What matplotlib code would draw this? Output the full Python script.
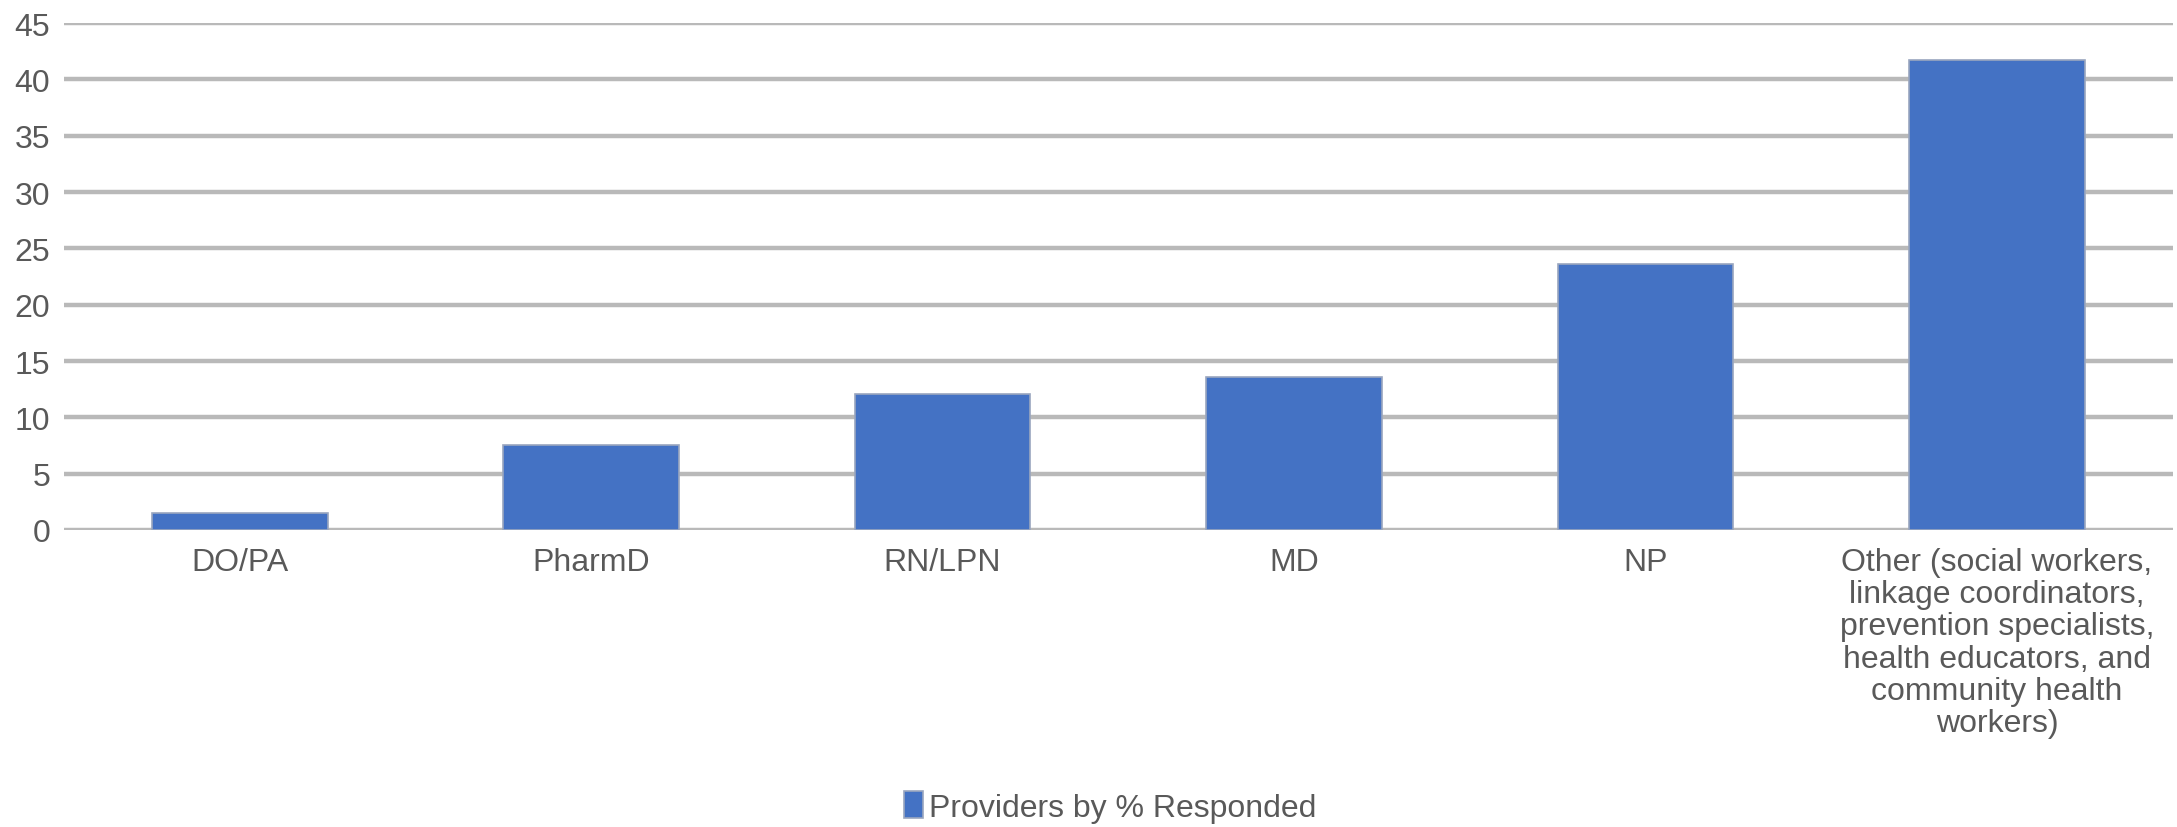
import matplotlib
matplotlib.use("Agg")
import matplotlib.pyplot as plt
from matplotlib.patches import Patch


# ================= DATA =================

categories = [
    "DO/PA",
    "PharmD",
    "RN/LPN",
    "MD",
    "NP",
    "Other (social workers,\nlinkage coordinators,\nprevention specialists,\nhealth educators, and\ncommunity health\nworkers)",
]
values = [1.5, 7.5, 12.1, 13.6, 23.6, 41.7]
series_name = "Providers by % Responded"
y_ticks = [0, 5, 10, 15, 20, 25, 30, 35, 40, 45]


# ================= STYLE =================

plt.rcParams["font.family"] = ["Liberation Sans", "DejaVu Sans"]
BAR_COLOR = "#4472C4"
GRID_COLOR = "#b9b9b9"
TEXT_COLOR = "#595959"
FS = 23


# ================= PLOT =================

fig = plt.figure(figsize=(21.77, 8.28), dpi=100)
ax = fig.add_axes([0.0294, 0.3587, 0.9686, 0.6123])

x = list(range(len(categories)))
ax.bar(x, values, width=0.5, color=BAR_COLOR,
       edgecolor="#9aa6bf", linewidth=1.2, zorder=3)

ax.set_xlim(-0.5, len(categories) - 0.5)
ax.set_ylim(0, 45)
ax.set_yticks(y_ticks)
ax.set_yticklabels([str(t) for t in y_ticks])
ax.set_xticks(x)
ax.set_xticklabels(categories, linespacing=1.1)

ax.yaxis.grid(True, color=GRID_COLOR, linewidth=3.2, zorder=0)
ax.set_axisbelow(True)
for s in ax.spines.values():
    s.set_visible(False)

ax.tick_params(axis="y", length=0, pad=10, labelsize=FS, labelcolor=TEXT_COLOR)
ax.tick_params(axis="x", length=0, pad=12, labelsize=FS, labelcolor=TEXT_COLOR)
for lbl in ax.get_xticklabels():
    lbl.set_verticalalignment("top")
    lbl.set_horizontalalignment("center")

handle = Patch(facecolor=BAR_COLOR, edgecolor="#9aa6bf", linewidth=1.2)
fig.legend([handle], [series_name], loc="center", bbox_to_anchor=(0.51, 0.024),
           frameon=False, fontsize=FS, labelcolor=TEXT_COLOR,
           handlelength=0.6, handleheight=0.9, handletextpad=0.2)

fig.savefig("out.png", dpi=100, facecolor="white")
